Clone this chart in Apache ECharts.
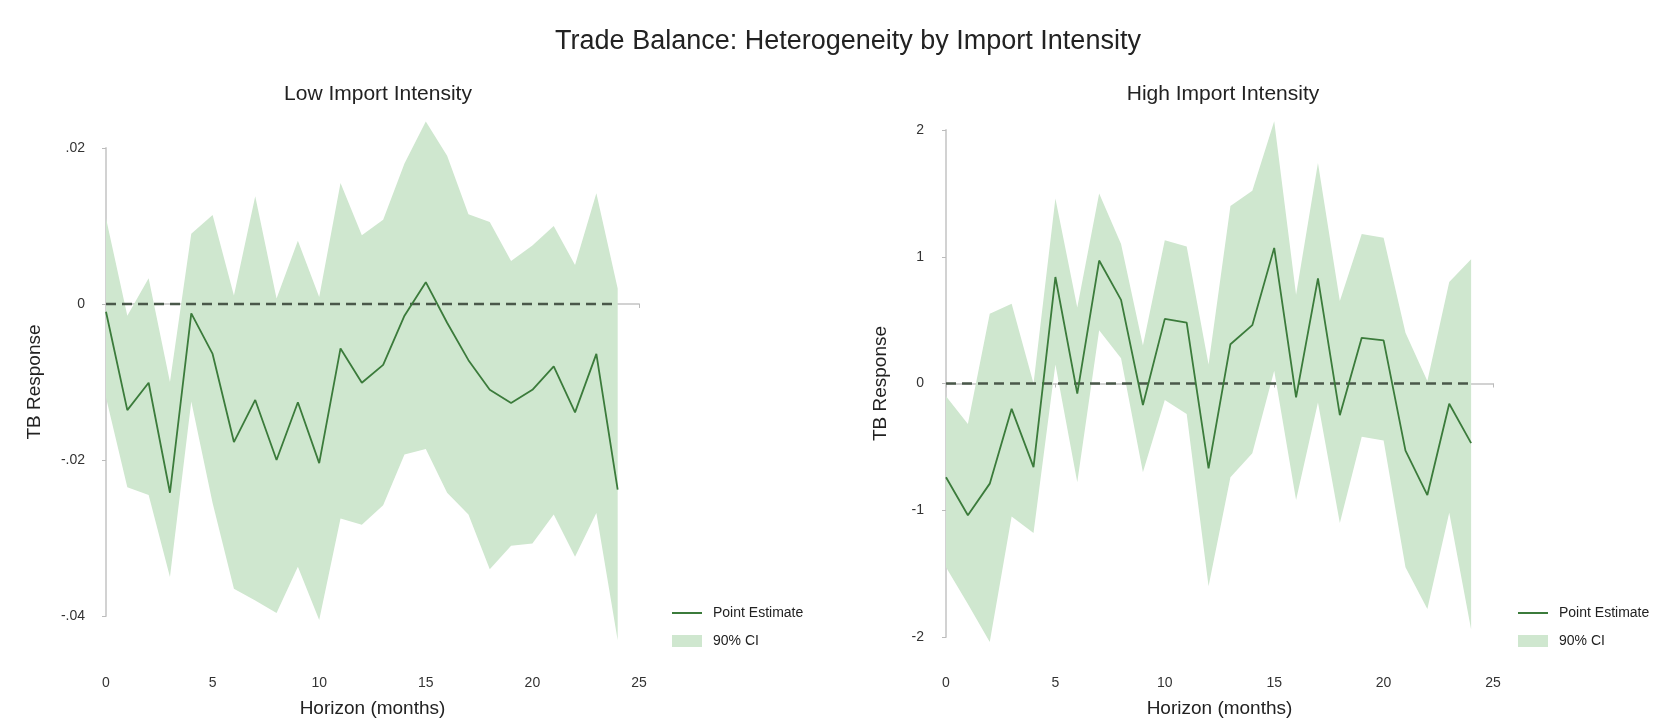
<!DOCTYPE html>
<html>
<head>
<meta charset="utf-8">
<script src="https://cdn.jsdelivr.net/npm/echarts@6/dist/echarts.min.js"></script>
<style>
  html, body { margin: 0; padding: 0; background: #ffffff; }
  #chart { width: 1660px; height: 723px; }
</style>
</head>
<body>
<div id="chart"></div>
<script>
// ---- data ----
const horizons = [0,1,2,3,4,5,6,7,8,9,10,11,12,13,14,15,16,17,18,19,20,21,22,23,24];

const lowPoint = [-0.0010,-0.0136,-0.0101,-0.0242,-0.0012,-0.0064,-0.0177,-0.0123,-0.0200,-0.0126,
                  -0.0204,-0.0057,-0.0101,-0.0078,-0.0015,0.0028,-0.0024,-0.0072,-0.0110,-0.0127,
                  -0.0110,-0.0080,-0.0139,-0.0064,-0.0238];
const lowUpper = [0.0110,-0.0015,0.0033,-0.0100,0.0090,0.0114,0.0011,0.0138,0.0007,0.0081,
                  0.0009,0.0155,0.0088,0.0108,0.0180,0.0234,0.0190,0.0115,0.0105,0.0055,
                  0.0075,0.0100,0.0050,0.0142,0.0020];
const lowLower = [-0.0120,-0.0235,-0.0245,-0.0350,-0.0125,-0.0255,-0.0365,-0.0380,-0.0396,-0.0337,
                  -0.0405,-0.0275,-0.0283,-0.0258,-0.0193,-0.0186,-0.0242,-0.0270,-0.0340,-0.0310,
                  -0.0307,-0.0270,-0.0324,-0.0268,-0.0431];

const highPoint = [-0.74,-1.04,-0.79,-0.20,-0.66,0.84,-0.08,0.97,0.66,-0.17,
                   0.51,0.48,-0.67,0.31,0.46,1.07,-0.11,0.83,-0.25,0.36,
                   0.34,-0.53,-0.88,-0.16,-0.47];
const highUpper = [-0.10,-0.32,0.55,0.63,0.00,1.46,0.60,1.50,1.10,0.30,
                   1.13,1.08,0.15,1.40,1.52,2.07,0.70,1.74,0.65,1.18,
                   1.15,0.40,0.02,0.80,0.98];
const highLower = [-1.45,-1.74,-2.04,-1.05,-1.18,0.15,-0.78,0.42,0.20,-0.70,
                   -0.13,-0.24,-1.60,-0.74,-0.55,0.10,-0.92,-0.15,-1.10,-0.42,
                   -0.45,-1.45,-1.78,-1.02,-1.94];

const xTicks = [0,5,10,15,20,25];
const lowYTicks = [-0.04,-0.02,0,0.02];
const highYTicks = [-2,-1,0,1,2];

const mainTitle = 'Trade Balance: Heterogeneity by Import Intensity';
const panelTitles = ['Low Import Intensity', 'High Import Intensity'];
const xName = 'Horizon (months)';
const yName = 'TB Response';
const legendNames = ['Point Estimate', '90% CI'];

// ---- styles ----
const FONT = 'Liberation Sans, Arial, Helvetica, sans-serif';
const BAND = '#cfe7cf';
const LINE = '#3b7b3b';
const ZERO = '#4a584a';
const AXIS = '#d2d2d2';

function pairs(vals) { return horizons.map((h, i) => [h, vals[i]]); }

function fmtLow(v) {
  if (Math.abs(v) < 1e-12) return '0';
  return (v < 0 ? '-' : '') + Math.abs(v).toFixed(2).replace(/^0/, '');
}

function bandSeries(idx, upper, lower) {
  return {
    type: 'custom', name: legendNames[1], xAxisIndex: idx, yAxisIndex: idx,
    data: horizons.map((h, i) => [h, lower[i], upper[i]]),
    encode: { x: 0, y: [1, 2] },
    itemStyle: { color: BAND },
    silent: true, clip: false, z: 2,
    renderItem: function (params, api) {
      if (params.dataIndex !== 0) return;
      const n = params.dataInsideLength;
      const top = [], bot = [];
      for (let i = 0; i < n; i++) {
        top.push(api.coord([api.value(0, i), api.value(2, i)]));
        bot.push(api.coord([api.value(0, i), api.value(1, i)]));
      }
      return {
        type: 'polygon',
        shape: { points: top.concat(bot.reverse()) },
        style: { fill: BAND }
      };
    }
  };
}

function panelSeries(idx, point, upper, lower) {
  return [
    bandSeries(idx, upper, lower),
    { type: 'line', name: 'zero' + idx, xAxisIndex: idx, yAxisIndex: idx,
      data: pairs(horizons.map(() => 0)),
      symbol: 'none', lineStyle: { color: ZERO, width: 2.4, type: [10, 6] },
      silent: true, clip: false, z: 3 },
    { type: 'line', name: legendNames[0], xAxisIndex: idx, yAxisIndex: idx,
      data: pairs(point), symbol: 'none', showSymbol: false,
      itemStyle: { color: LINE }, lineStyle: { color: LINE, width: 1.8 },
      clip: false, z: 4 }
  ];
}

const axisLabelStyle = { color: '#333', fontFamily: FONT, fontSize: 14 };
const nameStyle = { color: '#222', fontFamily: FONT, fontSize: 19 };

function xAxisCfg(idx, offset) {
  return {
    type: 'value', gridIndex: idx, min: xTicks[0], max: xTicks[xTicks.length - 1],
    interval: xTicks[1] - xTicks[0], offset: offset,
    name: xName, nameLocation: 'middle', nameGap: 38, nameTextStyle: nameStyle,
    axisLine: { show: true, lineStyle: { color: AXIS, width: 2 } },
    axisTick: { show: true, length: 4, lineStyle: { color: '#bbbbbb' } },
    axisLabel: Object.assign({ margin: 15 }, axisLabelStyle),
    splitLine: { show: false }
  };
}

function yAxisCfg(idx, ticks, offset, gap, formatter) {
  return {
    type: 'value', gridIndex: idx, min: ticks[0], max: ticks[ticks.length - 1],
    interval: ticks[1] - ticks[0], offset: offset,
    name: yName, nameLocation: 'middle', nameGap: gap, nameTextStyle: nameStyle,
    axisLine: { show: true, lineStyle: { color: AXIS, width: 2 } },
    axisTick: { show: true, length: 4, lineStyle: { color: '#bbbbbb' } },
    axisLabel: Object.assign({ margin: 12, formatter: formatter }, axisLabelStyle),
    splitLine: { show: false }
  };
}

function legendCfg(left) {
  return {
    orient: 'vertical', left: left, top: 601, itemWidth: 30, itemHeight: 12, itemGap: 14,
    textStyle: { color: '#222', fontFamily: FONT, fontSize: 14, padding: [0, 0, 0, 6] },
    selectedMode: false, symbolKeepAspect: true,
    data: [
      { name: legendNames[0], icon: 'path://M0,0L30,0L30,2L0,2Z', itemStyle: { color: LINE } },
      { name: legendNames[1], icon: 'rect', itemStyle: { color: BAND } }
    ]
  };
}

const option = {
  animation: false,
  backgroundColor: '#ffffff',
  title: [
    { text: mainTitle, left: 843, top: 23, textAlign: 'center',
      textStyle: { fontFamily: FONT, fontSize: 27, fontWeight: 'normal', color: '#222' } },
    { text: panelTitles[0], left: 373, top: 79, textAlign: 'center',
      textStyle: { fontFamily: FONT, fontSize: 21, fontWeight: 'normal', color: '#222' } },
    { text: panelTitles[1], left: 1218, top: 79, textAlign: 'center',
      textStyle: { fontFamily: FONT, fontSize: 21, fontWeight: 'normal', color: '#222' } }
  ],
  legend: [legendCfg(667), legendCfg(1513)],
  grid: [
    { left: 106, top: 148, width: 533, height: 469 },
    { left: 946, top: 130, width: 547, height: 508 }
  ],
  xAxis: [xAxisCfg(0, 45), xAxisCfg(1, 24)],
  yAxis: [
    yAxisCfg(0, lowYTicks, 9, 53, fmtLow),
    yAxisCfg(1, highYTicks, 10, 46, v => String(v))
  ],
  series: [].concat(
    panelSeries(0, lowPoint, lowUpper, lowLower),
    panelSeries(1, highPoint, highUpper, highLower)
  )
};

const chart = echarts.init(document.getElementById('chart'), null, { renderer: 'canvas' });
chart.setOption(option);
</script>
</body>
</html>
